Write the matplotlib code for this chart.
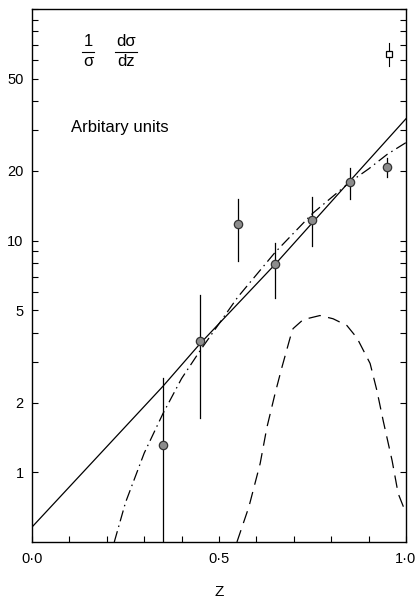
import matplotlib
matplotlib.use('Agg')
import matplotlib.pyplot as plt
from matplotlib.ticker import FixedLocator, FixedFormatter
from matplotlib.lines import Line2D

plt.rcParams['font.family'] = ['Liberation Sans', 'DejaVu Sans']

# measured points with errors
z_data = [0.35, 0.45, 0.55, 0.65, 0.75, 0.85, 0.95]
y_data = [1.31, 3.7, 11.8, 7.95, 12.3, 17.9, 20.8]
y_hi = [2.54, 5.8, 15.2, 9.8, 15.5, 20.6, 22.8]
y_lo = [0.3, 1.71, 8.2, 5.68, 9.5, 15.2, 18.8]

# single open-square point
z_sq = [0.955]
y_sq = [64.0]
sq_hi = [71.0]
sq_lo = [57.0]

# solid curve
z_solid = [0.0, 0.35, 0.45, 0.65, 0.85, 1.0]
y_solid = [0.58, 2.35, 3.6, 7.9, 18.1, 33.6]

# dash-dot curve
z_dd = [0.22, 0.25, 0.30, 0.35, 0.40, 0.45, 0.55, 0.65, 0.75, 0.85, 0.90, 0.95, 1.0]
y_dd = [0.5, 0.74, 1.21, 1.79, 2.54, 3.36, 5.7, 8.9, 13.1, 17.9, 20.4, 23.6, 26.5]

# dashed curve
z_dash = [0.548, 0.58, 0.61, 0.628, 0.65, 0.668, 0.69, 0.698, 0.725, 0.77, 0.805,
          0.842, 0.869, 0.904, 0.922, 0.939, 0.963, 0.979, 1.0]
y_dash = [0.5, 0.71, 1.09, 1.56, 2.19, 2.83, 3.8, 4.17, 4.56, 4.75, 4.6,
          4.3, 3.8, 2.95, 2.26, 1.67, 1.12, 0.81, 0.665]

y_ticks = [1, 2, 3, 4, 5, 6, 7, 8, 9, 10, 20, 30, 40, 50, 60, 70, 80, 90, 100]
y_labels = {1: '1', 2: '2', 5: '5', 10: '10', 20: '20', 50: '50'}
x_labels = ['0·0', '0·5', '1·0']

W, H = 420, 607
fig = plt.figure(figsize=(W / 100, H / 100), dpi=100)
ax = fig.add_axes([32 / W, 1 - 542 / H, 374 / W, 533 / H])
ax.set_yscale('log')
ax.set_xlim(0, 1)
ax.set_ylim(0.5, 100)

ax.plot(z_solid, y_solid, color='black', lw=0.9)
ax.plot(z_dd, y_dd, color='black', lw=0.9, dashes=(9, 3.5, 1.2, 3.5))
ax.plot(z_dash, y_dash, color='black', lw=0.9, dashes=(10, 6))

for z, lo, hi in zip(z_data, y_lo, y_hi):
    ax.plot([z, z], [lo, hi], color='black', lw=0.9)
ax.plot(z_data, y_data, 'o', ms=6, mfc='#8c8c8c', mec='#333333', mew=0.9)

for z, lo, hi in zip(z_sq, sq_lo, sq_hi):
    ax.plot([z, z], [lo, hi], color='black', lw=0.8)
ax.plot(z_sq, y_sq, 's', ms=5, mfc='white', mec='black', mew=0.9)

# axes styling
for s in ax.spines.values():
    s.set_linewidth(1.0)
ax.yaxis.set_major_locator(FixedLocator(y_ticks))
ax.yaxis.set_major_formatter(FixedFormatter([y_labels.get(t, '') for t in y_ticks]))
ax.yaxis.set_minor_locator(FixedLocator([]))
ax.xaxis.set_major_locator(FixedLocator([0.0, 0.5, 1.0]))
ax.xaxis.set_major_formatter(FixedFormatter(x_labels))
ax.xaxis.set_minor_locator(FixedLocator([0.1, 0.2, 0.3, 0.4, 0.6, 0.7, 0.8, 0.9]))
ax.tick_params(axis='y', which='both', direction='in', left=True, right=True,
               length=4, width=0.8, labelsize=10.5, pad=6)
ax.tick_params(axis='x', which='both', direction='in', bottom=True, top=False,
               length=4, width=0.8, labelsize=10.5, pad=7)

# labels
fig.text(219 / W, 1 - 592 / H, 'Z', ha='center', va='center', fontsize=11)
fig.text(120 / W, 1 - 128 / H, 'Arbitary units', ha='center', va='center', fontsize=12)

def frac(xc, top, bottom, half):
    fig.text(xc / W, 1 - 42 / H, top, ha='center', va='center', fontsize=12)
    fig.text(xc / W, 1 - 62 / H, bottom, ha='center', va='center', fontsize=12)
    fig.add_artist(Line2D([(xc - half) / W, (xc + half) / W], [1 - 52 / H, 1 - 52 / H],
                          transform=fig.transFigure, color='black', lw=0.8))

frac(88, '1', 'σ', 6)
frac(126, 'dσ', 'dz', 11)

fig.savefig('out.png', dpi=100)
